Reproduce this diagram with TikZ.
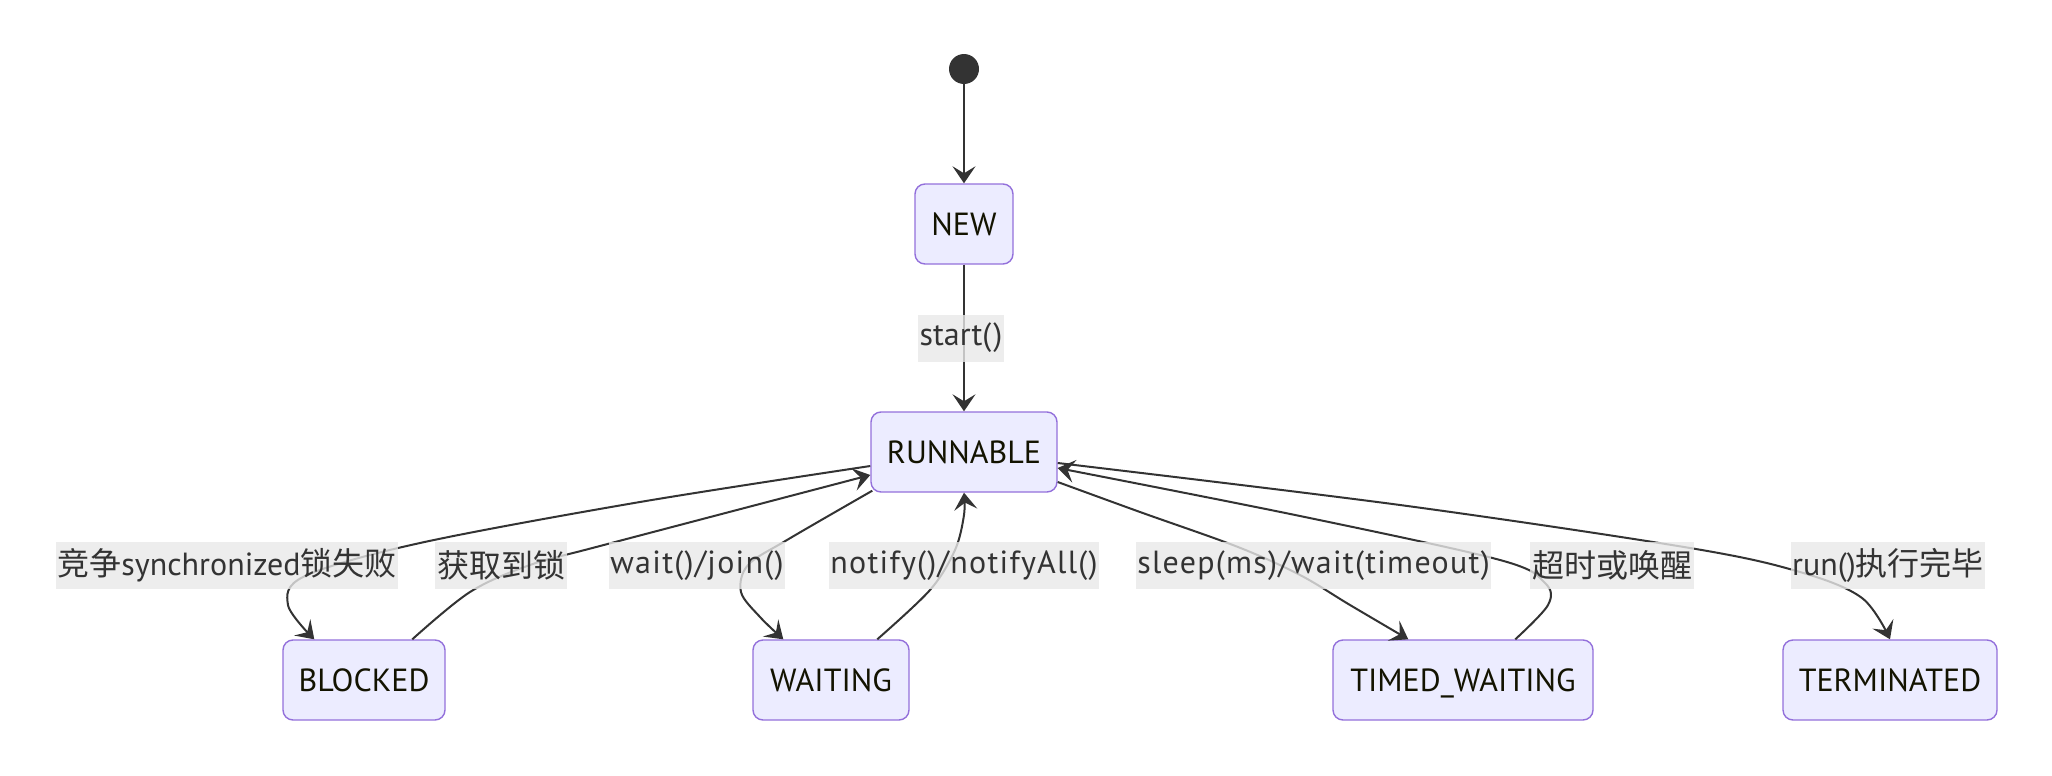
\documentclass[tikz,border=0pt]{standalone}
\usepackage{fontspec}
\setmainfont{PT Sans}
\newfontfamily\lsp{PT Sans}[LetterSpace=4]
\newfontfamily\cjk{Noto Sans CJK SC}
\usetikzlibrary{arrows.meta,calc}
\definecolor{nodefill}{HTML}{ECECFF}
\definecolor{nodeline}{HTML}{9370DB}
\definecolor{edgec}{HTML}{333333}
\definecolor{lblbg}{HTML}{E8E8E8}
\definecolor{ntext}{HTML}{131300}
\begin{document}
\begin{tikzpicture}[x=0.5pt,y=-0.5pt,
 state/.style={draw=nodeline, fill=nodefill, line width=0.7pt, rounded corners=5pt, minimum height=40pt, inner sep=0pt, text height=11.3pt, text depth=0pt, text=ntext, font=\fontsize{16}{19}\selectfont},
 lbl/.style={fill=lblbg, fill opacity=0.8, text opacity=1, text=edgec, inner xsep=0.8pt, inner ysep=0pt, minimum height=23.5pt, font=\fontsize{16}{19}\selectfont},
 arr/.style={draw=edgec, line width=1pt, -{Stealth[length=8.5pt,width=11.5pt,inset=3.5pt]}},
 sm/.style={smooth, tension=0.55}
 ]
\useasboundingbox (0,0) rectangle (2052,776);
\node[circle, fill=edgec, minimum size=15pt, inner sep=0pt] (init) at (964,69) {};
\node[state, minimum width=49pt] (new) at (964,224) {NEW};
\node[state, minimum width=93pt] (run) at (964,452) {RUNNABLE};
\node[state, minimum width=81pt] (blk) at (364,680) {BLOCKED};
\node[state, minimum width=78pt] (wai) at (831,680) {WAITING};
\node[state, minimum width=130pt] (tw) at (1463,680) {TIMED\_WAITING};
\node[state, minimum width=107pt] (ter) at (1890,680) {TERMINATED};

\coordinate (r1) at ($(run.west)+(0,14)$);
\coordinate (r2) at ($(run.west)+(0,23)$);
\coordinate (r3) at ($(run.south west)+(2,-2)$);
\coordinate (r5) at ($(run.east)+(0,30)$);
\coordinate (r6) at ($(run.east)+(0,16)$);
\coordinate (r7) at ($(run.east)+(0,11)$);
\coordinate (b1) at ($(blk.north west)+(32,0)$);
\coordinate (b2) at ($(blk.north west)+(130,0)$);
\coordinate (w1) at ($(wai.north west)+(31,0)$);
\coordinate (w2) at ($(wai.north west)+(125,0)$);
\coordinate (t1) at ($(tw.north west)+(76,0)$);
\coordinate (t2) at ($(tw.north west)+(183,0)$);

\draw[arr] (init) -- (new);
\draw[arr] (new) -- (run);
\draw[arr] plot[sm] coordinates {(r1) (640,502) (420,543) (305,576) (288,605) (b1)};
\draw[arr] plot[sm] coordinates {(b2) (470,592) (530,565) (600,546) (r2)};
\draw[arr] plot[sm] coordinates {(r3) (787,540) (748,565) (741,592) (760,617) (w1)};
\draw[arr] plot[sm] coordinates {(w2) (930,590) (955,550) (964,515) (run.south)};
\draw[arr] plot[sm] coordinates {(r5) (1140,512) (1238,547) (1300,575) (1350,605) (t1)};
\draw[arr] plot[sm] coordinates {(t2) (1548,605) (1545,583) (1500,560) (1300,516) (r6)};
\draw[arr] plot[sm] coordinates {(r7) (1400,505) (1690,548) (1800,572) (1862,598) (ter.north)};

\node[lbl] (l0) at (961,338) {start(\kern1pt)};
\node[lbl] (l1) at (227,565.5) {{\cjk 竞争}synchronized{\cjk 锁失败}};
\node[lbl] (l2) at (501,565.5) {\cjk 获取到锁};
\node[lbl] (l3) at (697,565.5) {\lsp wait()/join()};
\node[lbl] (l4) at (964,565.5) {\lsp notify()/notifyAll()};
\node[lbl] (l5) at (1313.5,565.5) {\lsp sleep(ms)/wait(timeout)};
\node[lbl] (l6) at (1612,565.5) {\cjk 超时或唤醒};
\node[lbl] (l7) at (1888,565.5) {run(){\cjk 执行完毕}};
\end{tikzpicture}
\end{document}
